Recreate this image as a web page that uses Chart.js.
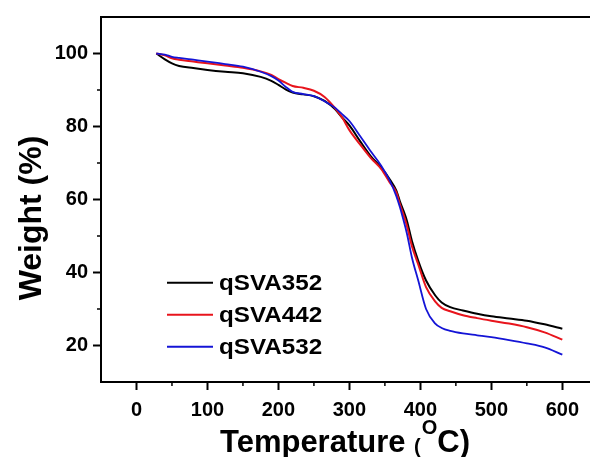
<!DOCTYPE html>
<html lang="en">
<head>
    <meta charset="UTF-8">
    <title>TGA qSVA</title>
    <script src="https://cdn.jsdelivr.net/npm/chart.js"></script>
    <style>
        body {
            margin: 0;
            background: #fff;
            overflow: hidden;
        }
    </style>
</head>
<body>
    <canvas id="tgaChart" width="590" height="457"></canvas>
    <script>
        // Data
        const temps = [28, 40, 50, 60, 80, 100, 125, 150, 175, 190, 200, 210, 220, 235, 250, 265, 280, 290, 300, 315,
                       330, 345, 357, 366, 371, 376, 381, 388, 397, 408, 421, 430, 442, 460, 480, 500, 525, 550, 575, 600];
        const w352 = [100, 98.4, 97.3, 96.6, 96.0, 95.5, 95.0, 94.6, 93.6, 92.5, 91.4, 90.2, 89.3, 88.8, 88.3, 87.0, 84.7, 82.4, 80.3, 76.0,
                      71.9, 68.7, 65.5, 62.5, 59.6, 57.0, 54.2, 48.7, 43.2, 37.8, 33.7, 31.8, 30.5, 29.6, 28.7, 28.0, 27.4, 26.8, 25.8, 24.6];
        const w442 = [100, 99.5, 98.7, 98.3, 97.8, 97.3, 96.7, 96.1, 95.1, 94.1, 93.0, 92.0, 91.1, 90.6, 89.8, 88.1, 85.0, 82.4, 79.0, 75.1,
                      71.4, 68.3, 64.6, 62.0, 58.8, 56.0, 52.8, 47.3, 42.2, 36.0, 32.0, 30.3, 29.4, 28.3, 27.5, 26.8, 26.0, 25.0, 23.6, 21.6];
        const w532 = [100, 99.7, 99.1, 98.8, 98.3, 97.8, 97.1, 96.4, 95.0, 93.8, 92.6, 90.9, 89.5, 88.9, 88.3, 86.9, 85.1, 83.3, 81.5, 77.4,
                      73.2, 69.2, 65.1, 61.0, 58.0, 54.5, 50.7, 44.2, 37.8, 30.0, 26.0, 24.8, 24.0, 23.3, 22.8, 22.3, 21.5, 20.6, 19.5, 17.5];
        const seriesNames = ['qSVA352', 'qSVA442', 'qSVA532'];
        const seriesColors = ['#000000', '#e8141c', '#1414d6'];
        const xTicks = [0, 100, 200, 300, 400, 500, 600];
        const xMinor = [50, 150, 250, 350, 450, 550];
        const yTicks = [20, 40, 60, 80, 100];
        const yMinor = [30, 50, 70, 90];

        const toPoints = (arr) => temps.map((t, i) => ({ x: t, y: arr[i] }));

        // minor ticks, top frame line, legend and axis titles
        const decorations = {
            id: 'decorations',
            afterDraw(chart) {
                const ctx = chart.ctx;
                const area = chart.chartArea;
                const xs = chart.scales.x;
                const ys = chart.scales.y;
                ctx.save();
                ctx.strokeStyle = '#000';
                ctx.lineWidth = 2;
                ctx.beginPath();
                ctx.moveTo(area.left - 1, area.top);
                ctx.lineTo(area.right, area.top);
                ctx.stroke();

                ctx.lineWidth = 1.5;
                xMinor.forEach(v => {
                    const px = xs.getPixelForValue(v);
                    ctx.beginPath();
                    ctx.moveTo(px, area.bottom);
                    ctx.lineTo(px, area.bottom + 4);
                    ctx.stroke();
                });
                yMinor.forEach(v => {
                    const py = ys.getPixelForValue(v);
                    ctx.beginPath();
                    ctx.moveTo(area.left, py);
                    ctx.lineTo(area.left - 4, py);
                    ctx.stroke();
                });

                // legend
                const legX = 167, legY = ys.getPixelForValue(37.2), rowH = 32;
                seriesNames.forEach((name, i) => {
                    const y = legY + i * rowH;
                    ctx.strokeStyle = seriesColors[i];
                    ctx.lineWidth = 2;
                    ctx.beginPath();
                    ctx.moveTo(legX, y);
                    ctx.lineTo(legX + 46, y);
                    ctx.stroke();
                    ctx.save();
                    ctx.translate(legX + 52, y + 7);
                    ctx.scale(1.1, 1);
                    ctx.fillStyle = '#000';
                    ctx.font = 'bold 22px "Liberation Sans", Arial, sans-serif';
                    ctx.textBaseline = 'alphabetic';
                    ctx.fillText(name, 0, 0);
                    ctx.restore();
                });

                // y title
                ctx.fillStyle = '#000';
                ctx.save();
                ctx.translate(41, 218);
                ctx.rotate(-Math.PI / 2);
                ctx.font = 'bold 32px "Liberation Sans", Arial, sans-serif';
                ctx.textAlign = 'center';
                ctx.textBaseline = 'alphabetic';
                ctx.fillText('Weight (%)', 0, 0);
                ctx.restore();

                // x title with superscript O
                const big = 'bold 31px "Liberation Sans", Arial, sans-serif';
                const small = 'bold 20px "Liberation Sans", Arial, sans-serif';
                let x = 220;
                ctx.textBaseline = 'alphabetic';
                ctx.font = big;
                ctx.fillText('Temperature ', x, 452);
                x += ctx.measureText('Temperature ').width;
                ctx.font = small;
                ctx.fillText('(', x, 453);
                x += ctx.measureText('(').width + 1;
                ctx.fillText('O', x, 434);
                x += ctx.measureText('O').width;
                ctx.font = big;
                ctx.fillText('C)', x, 452);
                ctx.restore();
            }
        };

        const tickFont = { family: '"Liberation Sans", Arial, sans-serif', size: 20, weight: 'bold' };

        new Chart(document.getElementById('tgaChart').getContext('2d'), {
            type: 'line',
            data: {
                datasets: [w352, w442, w532].map((arr, i) => ({
                    label: seriesNames[i],
                    data: toPoints(arr),
                    borderColor: seriesColors[i],
                    borderWidth: i === 2 ? 1.8 : 2,
                    pointRadius: 0,
                    fill: false,
                    cubicInterpolationMode: 'monotone',
                    order: 3 - i
                }))
            },
            options: {
                responsive: false,
                animation: false,
                layout: { padding: { top: 15, right: 0, left: 0, bottom: 0 } },
                plugins: {
                    legend: { display: false },
                    tooltip: { enabled: false }
                },
                scales: {
                    x: {
                        type: 'linear',
                        min: -50,
                        max: 639,
                        afterBuildTicks: (scale) => { scale.ticks = xTicks.map(v => ({ value: v })); },
                        afterFit: (scale) => { scale.height = 75; },
                        grid: { drawOnChartArea: false, drawTicks: true, tickLength: 8, tickWidth: 2, tickColor: '#000' },
                        border: { display: true, color: '#000', width: 2 },
                        ticks: { color: '#000', font: tickFont, padding: 8, maxRotation: 0 }
                    },
                    y: {
                        min: 10,
                        max: 110,
                        afterBuildTicks: (scale) => { scale.ticks = yTicks.map(v => ({ value: v })); },
                        afterFit: (scale) => { scale.width = 101; },
                        grid: { drawOnChartArea: false, drawTicks: true, tickLength: 8, tickWidth: 2, tickColor: '#000' },
                        border: { display: true, color: '#000', width: 2 },
                        ticks: { color: '#000', font: tickFont, padding: 5 }
                    }
                }
            },
            plugins: [decorations]
        });
    </script>
</body>
</html>
